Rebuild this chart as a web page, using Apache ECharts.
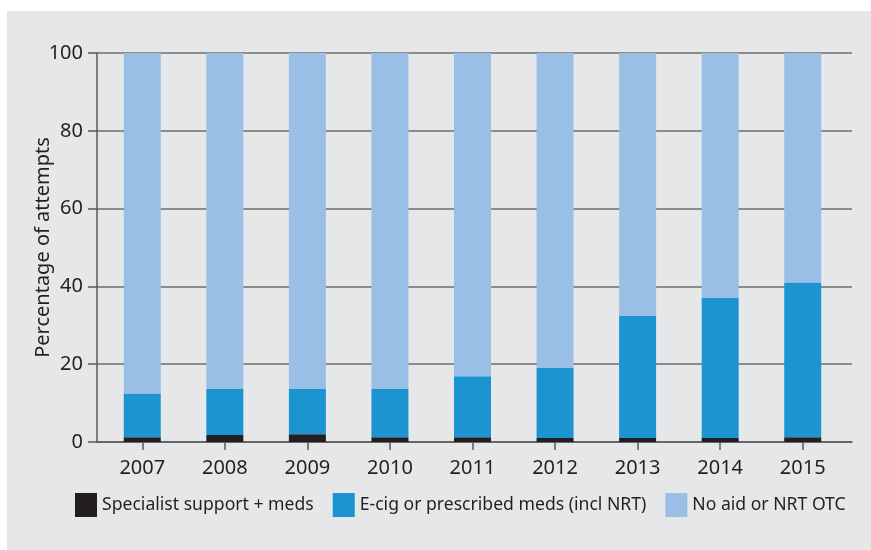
<!DOCTYPE html>
<html>
<head>
<meta charset="utf-8">
<script src="https://cdn.jsdelivr.net/npm/echarts@6/dist/echarts.min.js"></script>
<style>
  html, body { margin: 0; padding: 0; background: #fff; }
  #main { position: absolute; left: 7px; top: 11px; width: 864px; height: 539px; }
</style>
</head>
<body>
<div id="main"></div>
<script>
var years = ['2007', '2008', '2009', '2010', '2011', '2012', '2013', '2014', '2015'];
var specialist = [1.2, 1.8, 2.0, 1.2, 1.2, 1.0, 1.0, 1.0, 1.2];
var ecigMeds = [11.3, 11.8, 11.6, 12.4, 15.7, 18.0, 31.4, 36.1, 39.8];
var noAid = [87.5, 86.4, 86.4, 86.4, 83.1, 81.0, 67.6, 62.9, 59.0];
var yTicks = [0, 20, 40, 60, 80, 100];

var textColor = '#231f20';
var font = 'Noto Sans';

var myChart = echarts.init(document.getElementById('main'));

var option = {
  backgroundColor: '#e6e7e9',
  textStyle: { fontFamily: font, color: textColor },
  legend: {
    left: 63,
    top: 477,
    itemWidth: 22,
    itemHeight: 24,
    itemGap: 19,
    icon: 'rect',
    textStyle: { fontSize: 17.6, color: textColor, fontFamily: font },
    data: ['Specialist support + meds', 'E-cig or prescribed meds (incl NRT)', 'No aid or NRT OTC']
  },
  grid: [
    // frame grid: y axis, gridlines, x axis line
    { left: 90, right: 19, top: 42, bottom: 108 },
    // bar grid
    { left: 94, width: 743, top: 42, bottom: 108 }
  ],
  xAxis: [
    {
      gridIndex: 0,
      type: 'value',
      min: 0,
      max: 1,
      axisLine: { show: true, lineStyle: { color: '#5a5a5a', width: 1.5 } },
      axisTick: { show: false },
      axisLabel: { show: false },
      splitLine: { show: false }
    },
    {
      gridIndex: 1,
      type: 'category',
      data: years,
      axisLine: { show: false },
      axisTick: { show: true, alignWithLabel: true, length: 8, lineStyle: { color: '#5a5a5a', width: 1.5 } },
      axisLabel: { fontSize: 20, color: textColor, margin: 16, fontFamily: font }
    }
  ],
  yAxis: [
    {
      gridIndex: 0,
      type: 'value',
      min: yTicks[0],
      max: yTicks[yTicks.length - 1],
      interval: 20,
      name: 'Percentage of attempts',
      nameLocation: 'middle',
      nameGap: 44,
      nameMoveOverlap: false,
      nameTextStyle: { fontSize: 20, color: textColor, fontFamily: font },
      axisLine: { show: true, lineStyle: { color: '#5a5a5a', width: 1.5 } },
      axisTick: { show: true, length: 9, lineStyle: { color: '#5a5a5a', width: 1.5 } },
      axisLabel: { fontSize: 20, color: textColor, margin: 14, fontFamily: font },
      splitLine: { show: true, lineStyle: { color: '#6e6e6e', width: 1.5 } }
    },
    {
      gridIndex: 1,
      type: 'value',
      min: 0,
      max: 100,
      show: false,
      splitLine: { show: false }
    }
  ],
  series: [
    {
      name: 'Specialist support + meds',
      type: 'bar',
      stack: 'a',
      xAxisIndex: 1,
      yAxisIndex: 1,
      barWidth: 37,
      itemStyle: { color: '#231f20' },
      data: specialist
    },
    {
      name: 'E-cig or prescribed meds (incl NRT)',
      type: 'bar',
      stack: 'a',
      xAxisIndex: 1,
      yAxisIndex: 1,
      barWidth: 37,
      itemStyle: { color: '#1d94d2' },
      data: ecigMeds
    },
    {
      name: 'No aid or NRT OTC',
      type: 'bar',
      stack: 'a',
      xAxisIndex: 1,
      yAxisIndex: 1,
      barWidth: 37,
      itemStyle: { color: '#9abfe6' },
      data: noAid
    }
  ]
};

myChart.setOption(option);
</script>
</body>
</html>
